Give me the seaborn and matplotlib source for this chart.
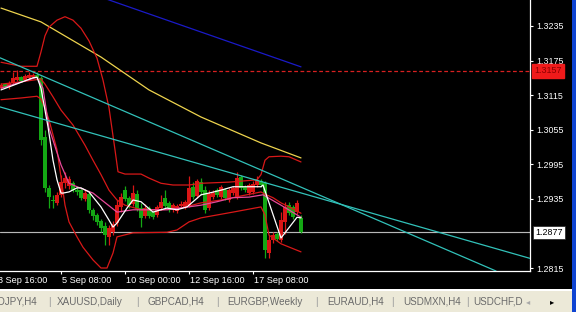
import matplotlib
matplotlib.use("Agg")
import matplotlib.pyplot as plt
import matplotlib.transforms as mtransforms
from matplotlib.patches import Rectangle
import numpy as np
import pandas as pd
import seaborn as sns

# ---------------- data (EURUSD-like H4 candles) ----------------
opens = [1.3127, 1.3134, 1.3129, 1.3136, 1.3141, 1.3146, 1.3141, 1.3145, 1.3146, 1.3150,
         1.3145, 1.3042, 1.2954, 1.2933, 1.2928, 1.2942, 1.2962, 1.2957, 1.2962, 1.2950,
         1.2950, 1.2935, 1.2943, 1.2916, 1.2907, 1.2896, 1.2888, 1.2869, 1.2877, 1.2893,
         1.2921, 1.2950, 1.2937, 1.2926, 1.2943, 1.2919, 1.2905, 1.2919, 1.2912, 1.2907,
         1.2919, 1.2937, 1.2928, 1.2916, 1.2914, 1.2923, 1.2921, 1.2924, 1.2955, 1.2940,
         1.2964, 1.2950, 1.2919, 1.2938, 1.2950, 1.2938, 1.2950, 1.2933, 1.2945, 1.2938,
         1.2973, 1.2956, 1.2945, 1.2947, 1.2959, 1.2966, 1.2962, 1.2841, 1.2864, 1.2874,
         1.2864, 1.2895, 1.2924, 1.2921, 1.2912, 1.2902]
highs = [1.3136, 1.3136, 1.3139, 1.3155, 1.3159, 1.3148, 1.3152, 1.3155, 1.3153, 1.3155,
         1.3148, 1.3054, 1.2959, 1.2942, 1.2947, 1.2977, 1.2982, 1.2975, 1.2966, 1.2957,
         1.2954, 1.2950, 1.2947, 1.2919, 1.2910, 1.2900, 1.2895, 1.2889, 1.2896, 1.2933,
         1.2945, 1.2957, 1.2940, 1.2959, 1.2950, 1.2928, 1.2926, 1.2923, 1.2916, 1.2924,
         1.2942, 1.2950, 1.2931, 1.2928, 1.2926, 1.2931, 1.2933, 1.2975, 1.2964, 1.2969,
         1.2971, 1.2957, 1.2950, 1.2950, 1.2954, 1.2959, 1.2954, 1.2954, 1.2957, 1.2982,
         1.2977, 1.2959, 1.2962, 1.2966, 1.2975, 1.2969, 1.2966, 1.2872, 1.2877, 1.2877,
         1.2912, 1.2930, 1.2930, 1.2924, 1.2933, 1.2907]
lows = [1.3126, 1.3127, 1.3126, 1.3134, 1.3139, 1.3138, 1.3139, 1.3143, 1.3145, 1.3143,
        1.3028, 1.2947, 1.2919, 1.2919, 1.2924, 1.2938, 1.2954, 1.2952, 1.2947, 1.2942,
        1.2933, 1.2931, 1.2910, 1.2898, 1.2889, 1.2877, 1.2855, 1.2855, 1.2872, 1.2888,
        1.2912, 1.2931, 1.2919, 1.2923, 1.2914, 1.2886, 1.2902, 1.2902, 1.2900, 1.2903,
        1.2916, 1.2919, 1.2912, 1.2912, 1.2910, 1.2919, 1.2917, 1.2921, 1.2935, 1.2937,
        1.2942, 1.2910, 1.2916, 1.2935, 1.2938, 1.2935, 1.2933, 1.2930, 1.2942, 1.2935,
        1.2950, 1.2947, 1.2942, 1.2943, 1.2956, 1.2956, 1.2833, 1.2833, 1.2858, 1.2862,
        1.2860, 1.2874, 1.2907, 1.2900, 1.2909, 1.2876]
closes = [1.3133, 1.3129, 1.3136, 1.3145, 1.3146, 1.3139, 1.3148, 1.3150, 1.3150, 1.3145,
          1.3037, 1.2954, 1.2938, 1.2931, 1.2942, 1.2964, 1.2971, 1.2969, 1.2950, 1.2947,
          1.2937, 1.2945, 1.2916, 1.2905, 1.2895, 1.2884, 1.2872, 1.2884, 1.2891, 1.2924,
          1.2938, 1.2935, 1.2924, 1.2945, 1.2917, 1.2902, 1.2919, 1.2905, 1.2903, 1.2921,
          1.2930, 1.2923, 1.2916, 1.2924, 1.2923, 1.2926, 1.2930, 1.2954, 1.2938, 1.2966,
          1.2947, 1.2916, 1.2943, 1.2945, 1.2942, 1.2956, 1.2937, 1.2950, 1.2954, 1.2971,
          1.2954, 1.2950, 1.2959, 1.2961, 1.2968, 1.2959, 1.2846, 1.2864, 1.2872, 1.2865,
          1.2898, 1.2921, 1.2910, 1.2903, 1.2928, 1.2877]

# Bollinger upper band
upper_bars = [0, 5, 9, 10, 11, 12, 14, 16, 18, 20, 22, 24, 25.5, 27, 28.5, 29.25, 31, 35, 37, 40,
              43, 47, 50, 57, 64, 65, 66, 67, 70, 72, 75]
upper_vals = [1.3172, 1.3165, 1.3165, 1.3190, 1.3218, 1.3233, 1.3245, 1.3251, 1.3245, 1.3231,
              1.3209, 1.3179, 1.3141, 1.3093, 1.3020, 1.2982, 1.2978, 1.2978, 1.2971, 1.2962,
              1.2959, 1.2959, 1.2962, 1.2964, 1.2968, 1.2977, 1.3002, 1.3008, 1.3009, 1.3008, 1.2999]
# Bollinger middle band
mid_bars = [0, 5, 10, 11, 13, 15, 18, 21, 23, 25, 27, 29, 31, 35, 40, 45, 50, 55, 60, 65,
            66, 68, 70, 72, 75]
mid_vals = [1.3134, 1.3138, 1.3143, 1.3134, 1.3112, 1.3089, 1.3063, 1.3028, 1.3002, 1.2977,
            1.2950, 1.2933, 1.2924, 1.2916, 1.2916, 1.2919, 1.2928, 1.2933, 1.2940, 1.2947,
            1.2943, 1.2937, 1.2928, 1.2921, 1.2910]
# Bollinger lower band
lower_bars = [0, 5, 9, 10, 11, 12, 13, 14, 15, 16, 17, 19, 20.5, 23, 25, 26.5, 28, 29, 33, 41.5,
              44, 47, 50, 58, 65, 66, 67, 70, 75]
lower_vals = [1.3107, 1.3110, 1.3113, 1.3108, 1.3093, 1.3072, 1.3046, 1.3020, 1.2973, 1.2924,
              1.2895, 1.2869, 1.2851, 1.2829, 1.2815, 1.2815, 1.2841, 1.2869, 1.2876, 1.2877,
              1.2881, 1.2895, 1.2902, 1.2912, 1.2921, 1.2907, 1.2872, 1.2857, 1.2843]
# pink moving average
pink_bars = [0, 9, 10.5, 12, 15, 17, 19, 23, 29, 33, 41.5, 50, 54, 58, 62, 65.5, 70, 75]
pink_vals = [1.3127, 1.3146, 1.3127, 1.3058, 1.2994, 1.2962, 1.2956, 1.2945, 1.2912, 1.2916,
             1.2916, 1.2924, 1.2930, 1.2937, 1.2938, 1.2942, 1.2924, 1.2903]
# white fast moving average
white_bars = [0, 8, 9, 10, 11.75, 13, 14, 15, 15.5, 17, 19, 20, 22, 25, 27, 28, 29, 31.5, 33, 35,
              36.5, 38, 40, 41.5, 44, 46.5, 50, 52, 55, 58, 60.5, 65, 65.5, 70, 74, 75]
white_vals = [1.3124, 1.3145, 1.3146, 1.3127, 1.3060, 1.3002, 1.2968, 1.2945, 1.2945, 1.2947,
              1.2954, 1.2954, 1.2947, 1.2921, 1.2898, 1.2886, 1.2893, 1.2919, 1.2933, 1.2930,
              1.2921, 1.2912, 1.2916, 1.2919, 1.2916, 1.2921, 1.2942, 1.2945, 1.2950, 1.2956,
              1.2956, 1.2956, 1.2959, 1.2867, 1.2903, 1.2902]
# slow moving averages
yellow_bars = [0, 10, 25, 37, 50, 65, 75]
yellow_vals = [1.3266, 1.3242, 1.3181, 1.3124, 1.3077, 1.3032, 1.3006]
blue_bars = [20, 75]
blue_vals = [1.3297, 1.3164]
# trend lines (two anchor points each)
trend_a_bars = [0, 120]
trend_a_vals = [1.3179, 1.2821]
trend_b_bars = [0, 120]
trend_b_vals = [1.3094, 1.2856]
# horizontal levels
level_red = 1.3157
bid_price = 1.2877

ytick_vals = [1.3235, 1.3175, 1.3115, 1.3055, 1.2995, 1.2935, 1.2815]
ytick_labels = ["1.3235", "1.3175", "1.3115", "1.3055", "1.2995", "1.2935", "1.2815"]
time_tick_bars = [-1, 15, 31, 47, 63]
time_tick_labels = ["3 Sep 16:00", "5 Sep 08:00", "10 Sep 00:00", "12 Sep 16:00", "17 Sep 08:00"]
tabs = ["USDJPY,H4", "XAUUSD,Daily", "GBPCAD,H4", "EURGBP,Weekly", "EURAUD,H4", "USDMXN,H4", "USDCHF,D"]

# ---------------- style ----------------
sns.set_theme(style="ticks")
plt.rcParams["font.family"] = ["Liberation Sans", "DejaVu Sans"]

W, H = 576, 312
fig = plt.figure(figsize=(W / 100, H / 100), dpi=100, facecolor="black")
ax = fig.add_axes([0, 41 / H, 530 / W, 271 / H])
ax.set_facecolor("black")

df = pd.DataFrame({"bar": np.arange(len(opens)), "open": opens, "high": highs,
                   "low": lows, "close": closes})
GREEN = "#14A814"
RED = "#DA1616"
df["color"] = np.where(df["close"] > df["open"], RED, GREEN)
df["body_lo"] = df[["open", "close"]].min(axis=1)
df["body_h"] = (df["close"] - df["open"]).abs().clip(lower=0.00014)

# horizontal levels
ax.axhline(level_red, color="#D82020", lw=0.9, ls=(0, (3, 2)), zorder=1)
ax.axhline(bid_price, color="#B8B8B8", lw=0.85, zorder=1)

# candles
ax.vlines(df["bar"], df["low"], df["high"], colors=df["color"], lw=0.9, zorder=2)
ax.bar(df["bar"], df["body_h"], bottom=df["body_lo"], width=0.8, color=df["color"],
       linewidth=0, zorder=2.1)

lw = 0.9
sns.lineplot(x=yellow_bars, y=yellow_vals, ax=ax, color="#EED44E", lw=lw, zorder=3)
sns.lineplot(x=blue_bars, y=blue_vals, ax=ax, color="#1A1AC8", lw=lw, zorder=3)
sns.lineplot(x=upper_bars, y=upper_vals, ax=ax, color="#D81818", lw=lw, zorder=3)
sns.lineplot(x=mid_bars, y=mid_vals, ax=ax, color="#D81818", lw=lw, zorder=3)
sns.lineplot(x=lower_bars, y=lower_vals, ax=ax, color="#D81818", lw=lw, zorder=3)
sns.lineplot(x=pink_bars, y=pink_vals, ax=ax, color="#E8489A", lw=lw, zorder=3.2)
sns.lineplot(x=white_bars, y=white_vals, ax=ax, color="#FFFFFF", lw=lw, zorder=3.4)

ax.axline((trend_a_bars[0], trend_a_vals[0]), (trend_a_bars[1], trend_a_vals[1]),
          color="#32C2BA", lw=lw, zorder=4)
ax.axline((trend_b_bars[0], trend_b_vals[0]), (trend_b_bars[1], trend_b_vals[1]),
          color="#32C2BA", lw=lw, zorder=4)

ax.set_xlim(-0.25, 132.25)
ax.set_ylim(1.28098, 1.3280)
ax.set_xlabel("")
ax.set_ylabel("")
ax.grid(False)

for s in ["top", "left"]:
    ax.spines[s].set_visible(False)
for s in ["right", "bottom"]:
    ax.spines[s].set_color("white")
    ax.spines[s].set_linewidth(0.9)

# y axis on the right
ax.yaxis.tick_right()
ax.set_yticks(ytick_vals)
ax.set_yticklabels(ytick_labels)
ax.tick_params(axis="y", which="both", right=True, left=False, colors="white",
               labelcolor="white", length=2.4, width=0.8, pad=2.2, labelsize=6.4,
               direction="out")

# x axis ticks (labels drawn as text so the clipped left one shows)
vis_ticks = [b for b in time_tick_bars if b >= -0.25]
ax.set_xticks(vis_ticks)
ax.set_xticklabels([])
ax.tick_params(axis="x", which="both", bottom=True, top=False, colors="white",
               length=2.4, width=0.8, direction="out")
tx = mtransforms.blended_transform_factory(ax.transData, ax.transAxes)
for b, lab in zip(time_tick_bars, time_tick_labels):
    ax.text(b + 0.3, -9.5 / 271, lab, transform=tx, ha="left", va="center",
            color="white", fontsize=6.6, clip_on=False)

# price boxes
ty = mtransforms.blended_transform_factory(ax.transAxes, ax.transData)
ax.text(1 + 4 / 530, level_red, "1.3157", transform=ty, ha="left", va="center",
        fontsize=6.4, color="#8A0000", clip_on=False, zorder=6,
        bbox=dict(boxstyle="square,pad=0.28", fc="#F01A1A", ec="#F01A1A"))
ax.text(1 + 5 / 530, bid_price, "1.2877", transform=ty, ha="left", va="center",
        fontsize=6.4, color="black", clip_on=False, zorder=6,
        bbox=dict(boxstyle="square,pad=0.25", fc="white", ec="#202020", lw=0.5))

# tab bar and window chrome
fig.add_artist(Rectangle((0, 0), 1, 22 / H, transform=fig.transFigure,
                         fc="#ECE9D8", ec="none", zorder=0))
fig.add_artist(Rectangle((0, 21 / H), 1, 1.6 / H, transform=fig.transFigure,
                         fc="#FFFFFF", ec="none", zorder=1))
fig.add_artist(Rectangle((572 / W, 0), 4 / W, 1, transform=fig.transFigure,
                         fc="#0F44D2", ec="none", zorder=5))

tab_y = 10 / H
tab_starts = [None, 57, 147, 227, 327, 403, 473]
sep_x = [49, 137, 217, 316, 392, 467]
fig.text(37 / W, tab_y, tabs[0], ha="right", va="center", fontsize=7.1, color="#6A6A6A")
for t, xs in zip(tabs[1:], tab_starts[1:]):
    fig.text(xs / W, tab_y, t, ha="left", va="center", fontsize=7.1, color="#6A6A6A")
for xs in sep_x:
    fig.text(xs / W, tab_y, "|", ha="center", va="center", fontsize=7.5, color="#A0A0A0")
fig.text(528 / W, tab_y, "\u25C2", ha="center", va="center", fontsize=6,
         color="#A8A8A8", family=["DejaVu Sans"])
fig.text(552 / W, tab_y, "\u25B8", ha="center", va="center", fontsize=6,
         color="#000000", family=["DejaVu Sans"])

fig.savefig("out.png", dpi=100, facecolor="black")
